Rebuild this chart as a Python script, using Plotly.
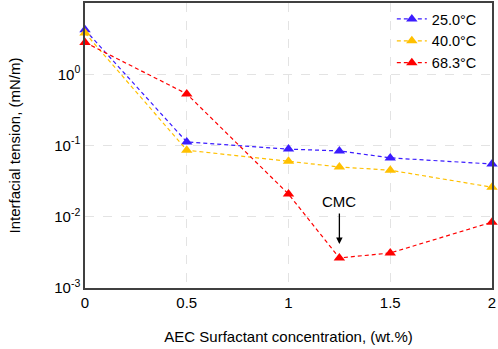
import math
import plotly.graph_objects as go

conc = [0, 0.5, 1, 1.25, 1.5, 2]
t25 = [4.2, 0.112, 0.089, 0.084, 0.067, 0.055]
t40 = [3.8, 0.086, 0.060, 0.050, 0.045, 0.026]
t68 = [2.8, 0.53, 0.0208, 0.00264, 0.0031, 0.0084]
names = ["25.0°C", "40.0°C", "68.3°C"]
colors = ["#3b1cff", "#ffc000", "#ff0000"]
xticks = [0, 0.5, 1, 1.5, 2]
xticktext = ["0", "0.5", "1", "1.5", "2"]
yticks = [1e-3, 1e-2, 1e-1, 1, 10]
yticktext = ["10<sup>-3</sup>", "10<sup>-2</sup>", "10<sup>-1</sup>", "10<sup>0</sup>", "10<sup>1</sup>"]

fig = go.Figure()
for name, vals, c in zip(names, [t25, t40, t68], colors):
    fig.add_trace(go.Scatter(x=conc, y=vals, name=name, mode="lines+markers", cliponaxis=False,
                             line=dict(color=c, width=1.2, dash="4px,3px"),
                             marker=dict(symbol="triangle-up", size=10, color=c)))

fig.add_annotation(x=1.25, y=math.log10(t68[3]), xref="x", yref="y", ax=0, ay=-46, text="",
                   showarrow=True, arrowhead=2, arrowsize=1, arrowwidth=1.3, arrowcolor="black",
                   standoff=14)
fig.add_annotation(x=1.25, y=math.log10(t68[3]), xref="x", yref="y", yshift=46, showarrow=False,
                   text="CMC", font=dict(size=15, color="black"), yanchor="bottom")

axis_common = dict(showline=True, linecolor="#404040", linewidth=1.5, mirror=True,
                   showgrid=True, gridcolor="#e3e3e3", griddash="dash", gridwidth=1,
                   ticks="", zeroline=False, automargin=False, tickfont=dict(size=15, color="black"))
fig.update_xaxes(range=[0, 2], tickvals=xticks, ticktext=xticktext,
                 title=dict(text="AEC Surfactant concentration, (wt.%)", font=dict(size=15, color="black"), standoff=22),
                 **axis_common)
fig.update_yaxes(type="log", range=[-3, 1], tickvals=yticks, ticktext=yticktext,
                 title=dict(text="Interfacial tension, (mN/m)", font=dict(size=15, color="black"), standoff=30),
                 **axis_common)
fig.update_layout(width=498, height=349, margin=dict(l=85, r=6, t=3, b=61),
                  plot_bgcolor="white", paper_bgcolor="white",
                  font=dict(family="Liberation Sans, Arial, sans-serif", color="black"),
                  legend=dict(x=0.975, y=1.0, xanchor="right", yanchor="top", bgcolor="rgba(0,0,0,0)",
                              font=dict(size=14.5), itemwidth=30, tracegroupgap=0))
fig.write_html("out.html", config={"displayModeBar": False},
               post_script="document.body.style.margin='0px';")
